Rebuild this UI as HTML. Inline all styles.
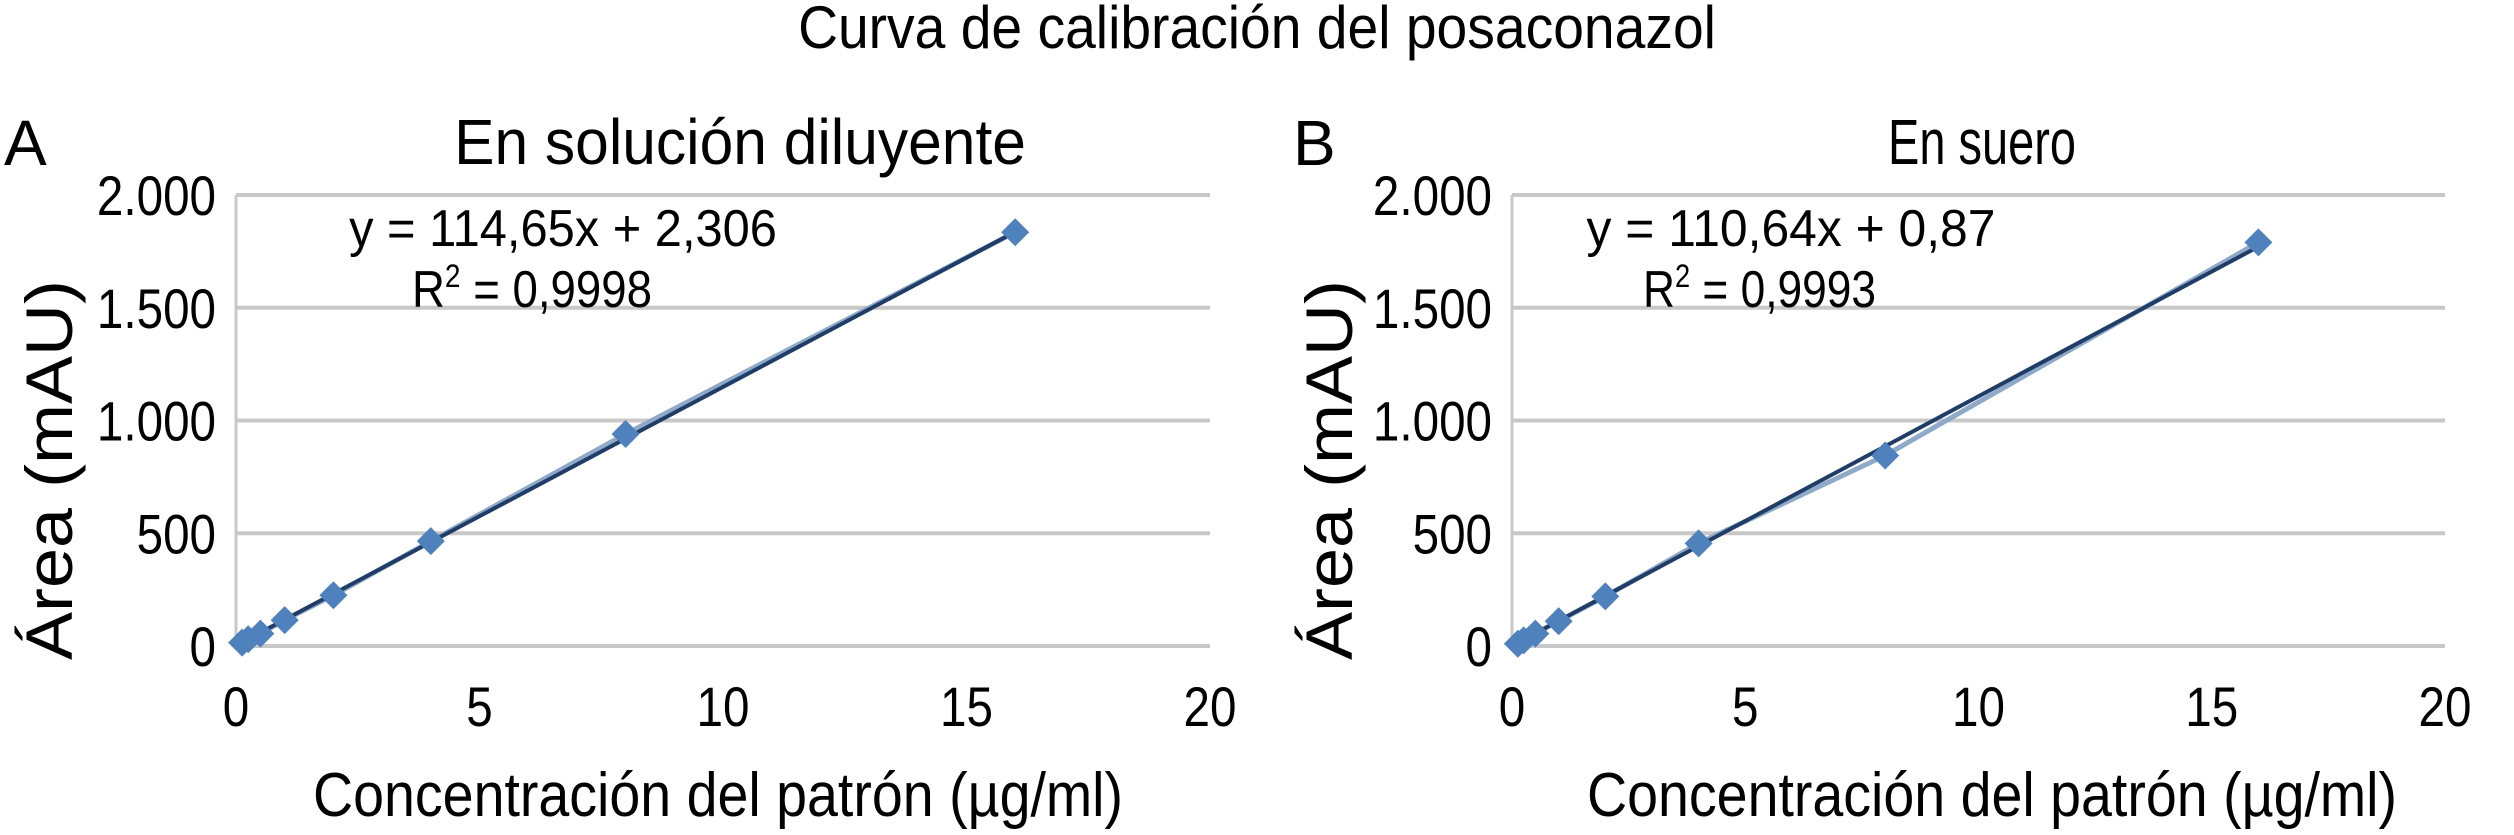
<!DOCTYPE html>
<html><head><meta charset="utf-8"><style>
html,body{margin:0;padding:0;background:#fff;}
svg{display:block;font-family:"Liberation Sans",sans-serif;}
</style></head><body>
<svg id="chart" width="2514" height="835" viewBox="0 0 2514 835" xmlns="http://www.w3.org/2000/svg">
<text id="figTitle" font-size="60">Curva de calibración del posaconazol</text>
<g id="panelA"></g>
<g id="panelB"></g>
</svg>
<script>
const concentrations = [0.125, 0.25, 0.5, 1, 2, 4, 8, 16];
const areaA = [15, 30, 55, 115, 225, 465, 940, 1835];
const areaB = [10, 25, 55, 110, 220, 455, 845, 1790];
const slopeA = 114.65, interceptA = 2.306;
const slopeB = 110.64, interceptB = 0.87;
const xTicks = [0, 5, 10, 15, 20];
const yTicks = [0, 500, 1000, 1500, 2000];
const yTickLabels = ["0", "500", "1.000", "1.500", "2.000"];

const NS = "http://www.w3.org/2000/svg";
function mk(parent, tag, attrs, text) {
  const e = document.createElementNS(NS, tag);
  for (const k in attrs) e.setAttribute(k, attrs[k]);
  if (text !== undefined) e.textContent = text;
  parent.appendChild(e);
  return e;
}
function fit(el, x, y, anchor, w, sx) {
  el.setAttribute("x", 0); el.setAttribute("y", 0);
  el.setAttribute("text-anchor", anchor);
  let s = sx || 1;
  if (w) { const n = el.getComputedTextLength(); if (n > 0) s = w / n; }
  el.setAttribute("transform", `translate(${x},${y}) scale(${s},1)`);
}
fit(document.getElementById("figTitle"), 1257, 48, "middle", 918);

function drawPanel(g, cfg, values, slope, intercept) {
  const X = v => cfg.x0 + (v / 20) * (cfg.x20 - cfg.x0);
  const Y = v => cfg.y0 - (v / 2000) * (cfg.y0 - cfg.y2000);

  const lbl = mk(g, "text", {x: cfg.labelX, y: 165, "font-size": 64}, cfg.letter);
  
  
  const tt = mk(g, "text", {"font-size": 64}, cfg.title);
  
  
  fit(tt, cfg.titleX, 164, "middle", cfg.titleW);

  yTicks.forEach((t, i) => {
    const gl = mk(g, "line", {x1: cfg.x0, x2: cfg.x20, y1: Y(t), y2: Y(t), stroke: "#c8c8c8", "stroke-width": 4});
    
    
    const tl = mk(g, "text", {"font-size": 56}, yTickLabels[i]);
    
    
    fit(tl, cfg.x0 - 20, Y(t) + 20, "end", null, 0.85);
  });
  const ax = mk(g, "line", {x1: cfg.x0, x2: cfg.x0, y1: Y(2000), y2: Y(0), stroke: "#c8c8c8", "stroke-width": 3});
  
  

  xTicks.forEach(t => {
    const tl = mk(g, "text", {"font-size": 56}, String(t));
    
    
    fit(tl, X(t), 726, "middle", null, 0.85);
  });

  const xt = mk(g, "text", {"font-size": 62}, "Concentración del patrón (µg/ml)");
  
  
  fit(xt, cfg.xTitleX, 816, "middle", 810);
  const yt = mk(g, "text", {"font-size": 66, x: 0, y: 0, "text-anchor": "middle"}, "Área (mAU)");
  
  
  const yn = yt.getComputedTextLength();
  yt.setAttribute("transform", `translate(${cfg.yTitleX},470) rotate(-90) scale(${yn > 0 ? 380 / yn : 1},1)`);

  const eq = mk(g, "text", {"font-size": 52}, `y = ${String(slope).replace('.', ',')}x + ${String(intercept).replace('.', ',')}`);
  
  
  fit(eq, cfg.eqX, 246, "middle", cfg.eqW);
  const r2 = mk(g, "text", {"font-size": 52}, "");
  
  
  mk(r2, "tspan", {}, "R");
  mk(r2, "tspan", {dy: -20, "font-size": 32}, "2");
  mk(r2, "tspan", {dy: 20}, " = " + cfg.r2);
  fit(r2, cfg.r2X, 307, "start", cfg.r2W);

  const pts = concentrations.map((c, i) => `${X(c)},${Y(values[i])}`).join(" ");
  const sl = mk(g, "polyline", {points: pts, fill: "none", stroke: "#8fa9c9", "stroke-width": 5});
  
  
  const tr = mk(g, "line", {x1: X(concentrations[0]), y1: Y(slope * concentrations[0] + intercept), x2: X(16), y2: Y(slope * 16 + intercept), stroke: "#1f3d66", "stroke-width": 4});
  
  
  concentrations.forEach((c, i) => {
    const cx = X(c), cy = Y(values[i]), r = 14;
    const m = mk(g, "polygon", {points: `${cx},${cy - r} ${cx + r},${cy} ${cx},${cy + r} ${cx - r},${cy}`, fill: "#4f81bd"});
    
    
  });
}

drawPanel(document.getElementById("panelA"),
  {x0: 236, x20: 1210, y0: 646, y2000: 195, letter: "A", labelX: 4, title: "En solución diluyente", titleX: 740, titleW: 572, xTitleX: 718, yTitleX: 72, eqX: 563, eqW: 428, r2X: 412, r2W: 240, r2: "0,9998"},
  areaA, slopeA, interceptA);
drawPanel(document.getElementById("panelB"),
  {x0: 1512, x20: 2445, y0: 646, y2000: 195, letter: "B", labelX: 1293, title: "En suero", titleX: 1982, titleW: 188, xTitleX: 1992, yTitleX: 1352, eqX: 1791, eqW: 409, r2X: 1643, r2W: 233, r2: "0,9993"},
  areaB, slopeB, interceptB);
</script>
</body></html>
